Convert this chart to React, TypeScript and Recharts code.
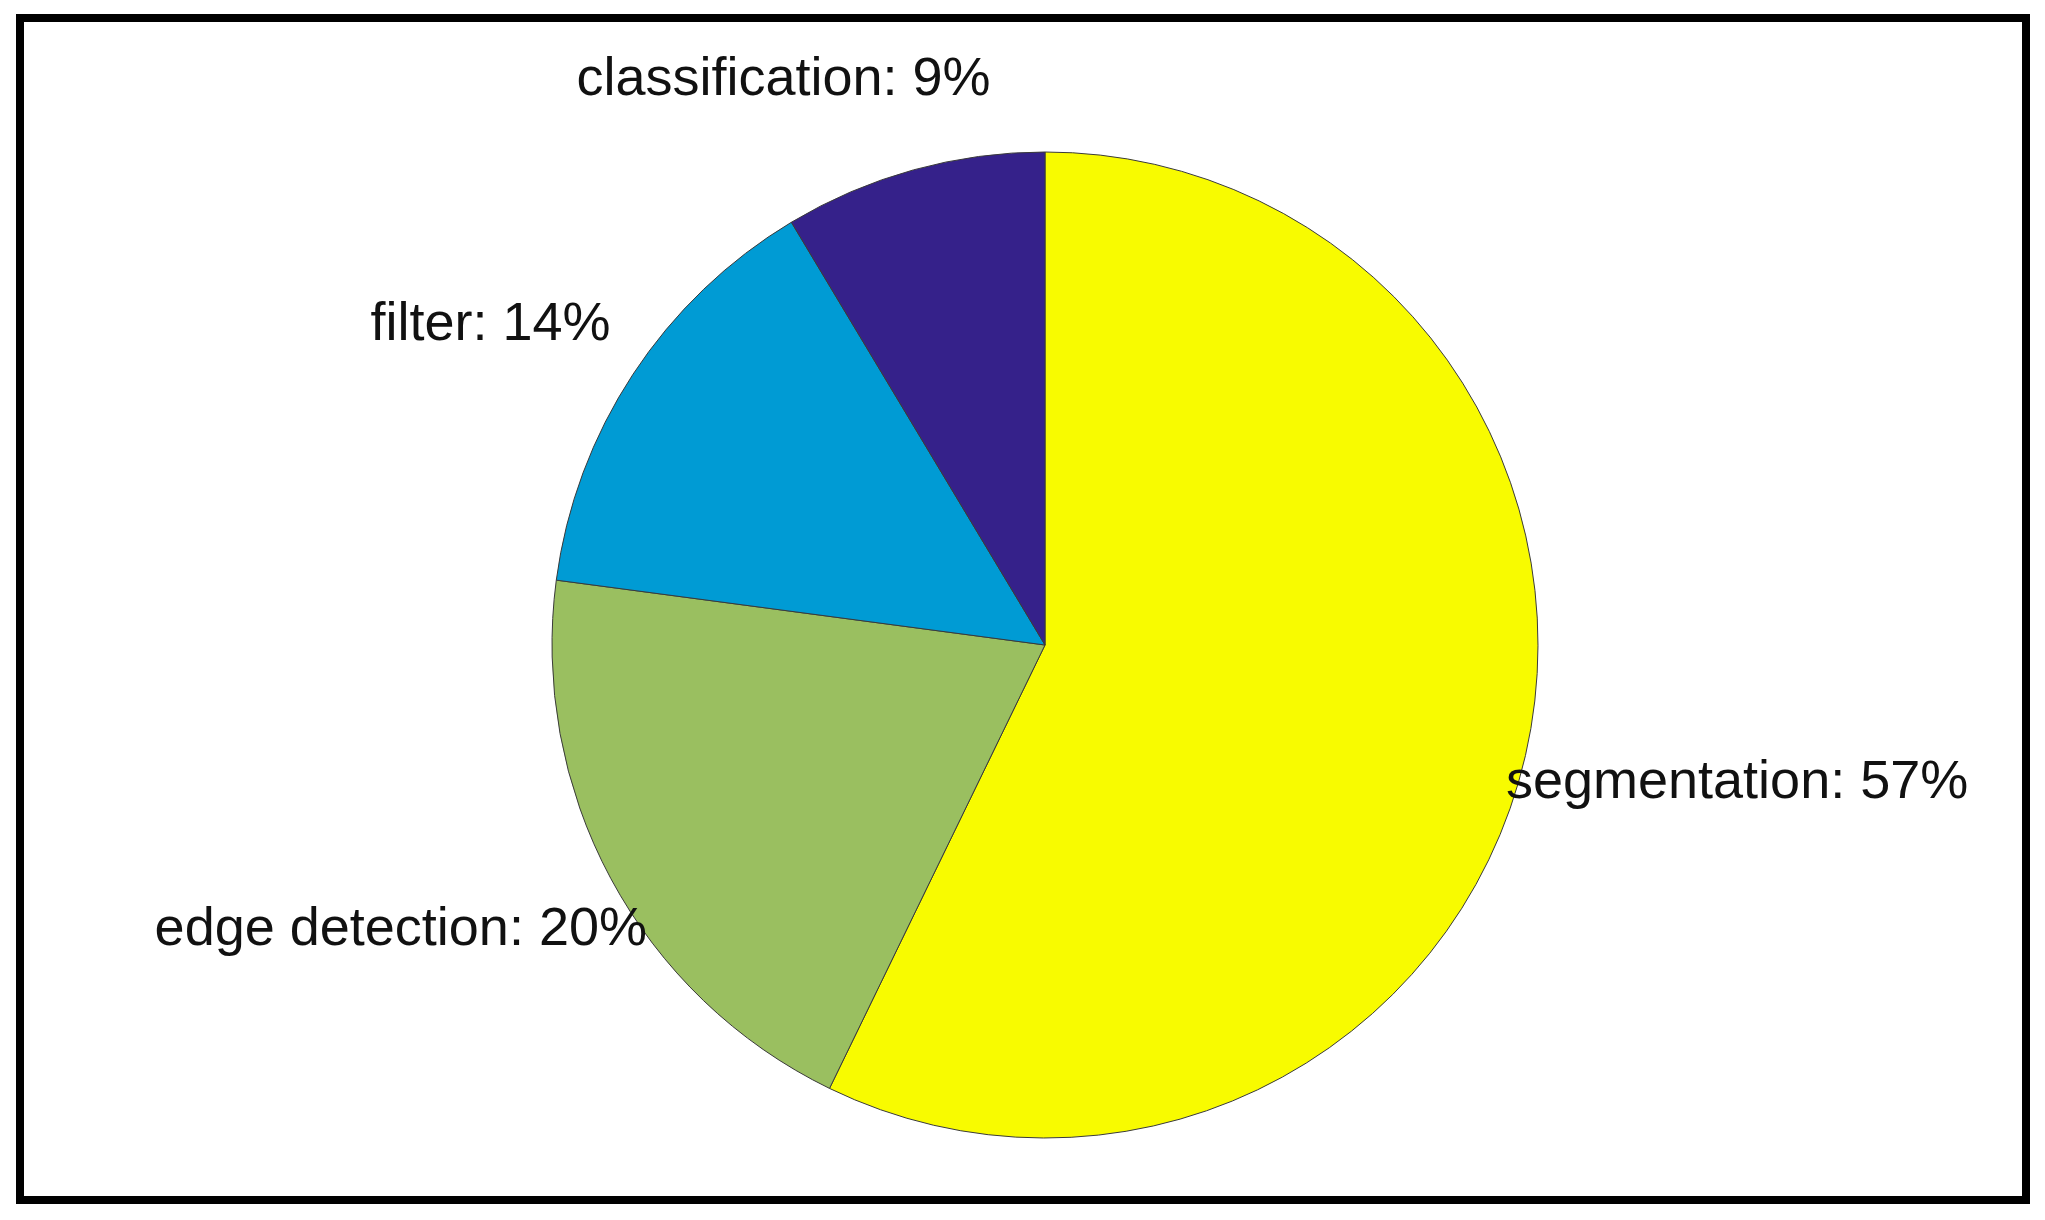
import React from 'react';
import { PieChart, Pie, Cell } from 'recharts';

// slices in drawing order, clockwise from 12 o'clock
const tasks = ['segmentation', 'edge detection', 'filter', 'classification'];
const shares = [57.2, 19.9, 14.3, 8.6];
const colors = ['#f8fb00', '#9abf60', '#009bd4', '#35218a'];

const data = tasks.map((name, i) => ({ name, value: shares[i] }));
const total = shares.reduce((a, b) => a + b, 0);

const FONT = '"Liberation Sans", Arial, Helvetica, sans-serif';
const FONT_SIZE = 54;
const RADIAN = Math.PI / 180;

let ctx: CanvasRenderingContext2D | null = null;
const textWidth = (s: string) => {
  if (!ctx) ctx = document.createElement('canvas').getContext('2d');
  if (!ctx) return s.length * FONT_SIZE * 0.5;
  ctx.font = `${FONT_SIZE}px ${FONT}`;
  return ctx.measureText(s).width;
};

// matlab-ish placement: 1.2 * radius out, nudged sideways by a quarter of the text width
const renderLabel = (props: any) => {
  const { cx, cy, midAngle, outerRadius, name, value } = props;
  const r = outerRadius * 1.2;
  const dx = Math.cos(-midAngle * RADIAN);
  const dy = Math.sin(-midAngle * RADIAN);
  const text = `${name}: ${Math.round((value / total) * 100)}%`;
  const w = textWidth(text);
  const x = cx + r * dx + Math.sign(dx) * w / 4;
  const y = cy + r * dy;
  return (
    <text
      x={x}
      y={y + 20}
      textAnchor="middle"
      fill="#111"
      fontSize={FONT_SIZE}
      fontFamily={FONT}
    >
      {text}
    </text>
  );
};

export default function App() {
  return (
    <div style={{ position: 'absolute', left: 0, top: 0, width: 2045, height: 1220, background: '#fff' }}>
      <div
        style={{
          position: 'absolute',
          left: 16,
          top: 14,
          width: 2030 - 16,
          height: 1204 - 14,
          border: '8px solid #000',
          boxSizing: 'border-box',
        }}
      />
      <div style={{ position: 'absolute', left: 0, top: 0 }}>
        <PieChart width={2045} height={1220} margin={{ top: 0, right: 0, bottom: 0, left: 0 }}>
          <Pie
            data={data}
            dataKey="value"
            nameKey="name"
            cx={1045}
            cy={645}
            outerRadius={493}
            startAngle={90}
            endAngle={-270}
            stroke="#3a3a3a"
            strokeWidth={1}
            label={renderLabel}
            labelLine={false}
            isAnimationActive={false}
          >
            {data.map((d, i) => (
              <Cell key={d.name} fill={colors[i]} />
            ))}
          </Pie>
        </PieChart>
      </div>
    </div>
  );
}
